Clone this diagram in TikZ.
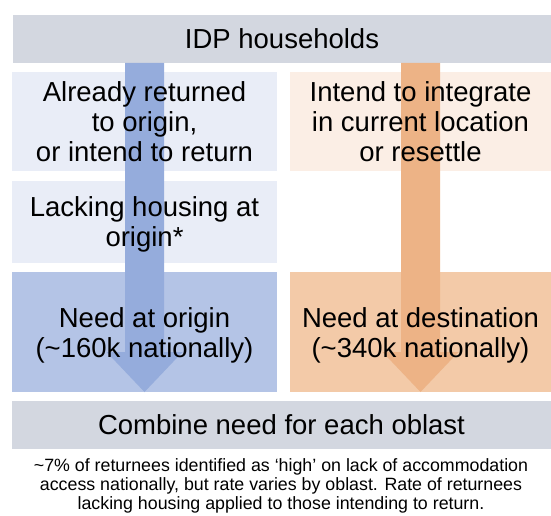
\documentclass[tikz,border=0pt]{standalone}
\usepackage{fontspec}
\setmainfont{Liberation Sans}
\usetikzlibrary{calc}
\definecolor{grayb}{HTML}{D3D7E0}
\definecolor{lblue}{HTML}{E9EDF7}
\definecolor{lorange}{HTML}{FBEEE5}
\definecolor{mblue}{HTML}{B4C4E6}
\definecolor{morange}{HTML}{F3CAA8}
\definecolor{ablue}{HTML}{95ACDC}
\definecolor{aorange}{HTML}{EDB386}
\begin{document}
\begin{tikzpicture}[x=1pt,y=-1pt,
  box/.style={inner sep=0pt, outer sep=0pt, anchor=north west},
  lbl/.style={align=center, font=\fontsize{27.5}{30}\selectfont, text=black, inner sep=0pt},
  note/.style={align=center, font=\fontsize{17.8}{18.8}\selectfont, text=black, inner sep=0pt}]
\useasboundingbox (0,0) rectangle (551,516);
\fill[white] (0,0) rectangle (551,516);
% boxes
\node[box, fill=grayb, minimum width=538pt, minimum height=48pt] (top) at (13,15) {};
\node[box, fill=lblue, minimum width=265pt, minimum height=99pt] (r1L) at (12,72) {};
\node[box, fill=lorange, minimum width=261pt, minimum height=99pt] (r1R) at (290,72) {};
\node[box, fill=lblue, minimum width=265pt, minimum height=82pt] (lackL) at (12,181) {};
\node[box, fill=mblue, minimum width=265pt, minimum height=120pt] (needL) at (12,272) {};
\node[box, fill=morange, minimum width=261pt, minimum height=120pt] (needR) at (290,272) {};
\node[box, fill=grayb, minimum width=539pt, minimum height=48pt] (comb) at (12,401) {};
% arrows
\fill[ablue] let \p1=(needL.center), \p2=(top.south), \p3=(needL.south) in
  (\x1-19.5pt,\y2) -- (\x1+19.5pt,\y2) -- (\x1+19.5pt,\y3+40pt) -- (\x1+38pt,\y3+40pt)
  -- (\x1,\y3) -- (\x1-38pt,\y3+40pt) -- (\x1-19.5pt,\y3+40pt) -- cycle;
\fill[aorange] let \p1=(needR.center), \p2=(top.south), \p3=(needR.south) in
  (\x1-19.5pt,\y2) -- (\x1+19.5pt,\y2) -- (\x1+19.5pt,\y3+40pt) -- (\x1+38pt,\y3+40pt)
  -- (\x1,\y3) -- (\x1-38pt,\y3+40pt) -- (\x1-19.5pt,\y3+40pt) -- cycle;
% texts
\node[lbl] (topT) at (top.center) {IDP households};
\node[lbl] (r1LT) at (r1L.center) {Already returned\\to origin,\\or intend to return};
\node[lbl] (r1RT) at (r1R.center) {Intend to integrate\\in current location\\or resettle};
\node[lbl] (lackT) at ([yshift=-2pt]lackL.center) {Lacking housing at\\origin*};
\node[lbl] (needLT) at ([yshift=-3pt]needL.center) {Need at origin\\(\textasciitilde160k nationally)};
\node[lbl] (needRT) at ([yshift=-3pt]needR.center) {Need at destination\\(\textasciitilde340k nationally)};
\node[lbl] (combT) at (comb.center) {Combine need for each oblast};
\node[note] (fn) at (281,486) {\textasciitilde7\% of returnees identified as ‘high’ on lack of accommodation\\access nationally, but rate varies by oblast. Rate of returnees\\lacking housing applied to those intending to return.};
\end{tikzpicture}
\end{document}
